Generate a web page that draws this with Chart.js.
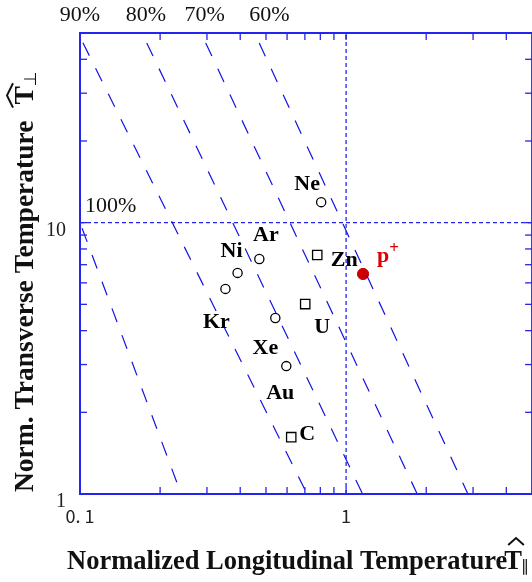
<!DOCTYPE html>
<html><head><meta charset="utf-8">
<script src="https://cdn.jsdelivr.net/npm/chart.js@4.4.1/dist/chart.umd.min.js"></script>
<style>html,body{margin:0;padding:0;background:#fff;overflow:hidden;}#wrap{width:540px;height:582px;}</style>
</head><body><div id="wrap"><canvas id="c" width="540" height="582"></canvas></div>
<script>
// ---- data ----
const xRange = [0.1, 5];
const yRange = [1, 50];
const xTickValues = [0.1, 1];
const xTickLabels = ['0. 1', '1'];
const yTickValues = [1, 10];
const yTickLabels = ['1', '10'];
const xMinorTicks = [0.2, 0.3, 0.4, 0.5, 0.6, 0.7, 0.8, 0.9, 1, 2, 3, 4];
const yMinorTicks = [2, 3, 4, 5, 6, 7, 8, 9, 10, 20, 30, 40];

const circleIons = ['Ne', 'Ar', 'Ni', 'Kr', 'Xe', 'Au'];
const circleTpar = [0.806, 0.472, 0.391, 0.352, 0.542, 0.596];
const circleTperp = [11.9, 7.35, 6.53, 5.70, 4.45, 2.96];

const squareIons = ['Zn', 'U', 'C'];
const squareTpar = [0.779, 0.702, 0.622];
const squareTperp = [7.60, 5.01, 1.62];

const protonLabel = 'p';
const protonCharge = '+';
const protonTpar = [1.158];
const protonTperp = [6.47];

const contourLabels = ['90%', '80%', '70%', '60%', '100%'];
const contourTpar = [[0.1, 0.713], [0.171, 1.153], [0.285, 1.85], [0.453, 2.87], [0.1, 0.240]];
const contourTperp = [[48.4, 1], [50, 1], [50, 1], [50, 1], [10, 1]];
const contourLabelTpar = [0.1, 0.177, 0.294, 0.515, 0.1];
const contourLabelTperp = [50, 50, 50, 50, 10];

const refTpar = 1;
const refTperp = 10;

const xTitle = 'Normalized Longitudinal Temperature';
const yTitle = 'Norm. Transverse Temperature';

// ---- styles ----
const frameColor = '#2424ee';
const lineBlue = '#1212e6';
const dashOffsets = [22, 17.5, 17.5, 17.5, 22.5];
const labelOffsets = {Ne:[-14,-12], Ar:[6.5,-17.6], Ni:[-6,-16], Kr:[-9,39], Xe:[-10,35.6], Au:[-6,32.6],
                      Zn:[27,11], U:[17,29], C:[16,3.3]};
const protonOffset = [20, -12];

const datasets = [];
contourTpar.forEach((xs, i) => {
  datasets.push({
    label: contourLabels[i],
    data: xs.map((v, j) => ({x: v, y: contourTperp[i][j]})),
    showLine: true, borderColor: lineBlue, borderWidth: 1.2,
    borderDash: [14.5, 14], borderDashOffset: dashOffsets[i],
    pointRadius: 0, fill: false
  });
});
datasets.push({label: 'refX', data: [{x: refTpar, y: yRange[0]}, {x: refTpar, y: yRange[1]}],
  showLine: true, borderColor: frameColor, borderWidth: 1.3, borderDash: [4, 3], pointRadius: 0});
datasets.push({label: 'refY', data: [{x: xRange[0], y: refTperp}, {x: xRange[1], y: refTperp}],
  showLine: true, borderColor: frameColor, borderWidth: 1.3, borderDash: [4, 3], pointRadius: 0});
datasets.push({label: 'circles', data: circleTpar.map((v, i) => ({x: v, y: circleTperp[i]})),
  pointStyle: 'circle', pointRadius: 4.6, borderColor: '#000', backgroundColor: 'rgba(0,0,0,0)', borderWidth: 1.3, showLine: false});
datasets.push({label: 'squares', data: squareTpar.map((v, i) => ({x: v, y: squareTperp[i]})),
  pointStyle: 'rect', pointRadius: 6.6, borderColor: '#000', backgroundColor: 'rgba(0,0,0,0)', borderWidth: 1.3, showLine: false});
datasets.push({label: 'proton', data: protonTpar.map((v, i) => ({x: v, y: protonTperp[i]})),
  pointStyle: 'circle', pointRadius: 5.6, borderColor: '#cc0000', backgroundColor: '#cc0000', borderWidth: 1, showLine: false});

const deco = {
  id: 'deco',
  afterDatasetsDraw(chart) {
    const {ctx, chartArea: a, scales: {x, y}} = chart;
    ctx.save();
    const seg = (x1, y1, x2, y2) => { ctx.beginPath(); ctx.moveTo(x1, y1); ctx.lineTo(x2, y2); ctx.stroke(); };
    // ticks inside
    ctx.strokeStyle = frameColor; ctx.lineWidth = 1.3;
    xMinorTicks.forEach(v => { const p = x.getPixelForValue(v); seg(p, a.bottom, p, a.bottom - 7); seg(p, a.top, p, a.top + 7); });
    yMinorTicks.forEach(v => { const p = y.getPixelForValue(v); seg(a.left, p, a.left + 7, p); seg(a.right, p, a.right - 7, p); });
    // frame
    ctx.lineWidth = 2;
    ctx.strokeRect(a.left, a.top, a.right - a.left, a.bottom - a.top);

    // contour labels
    ctx.fillStyle = '#111';
    ctx.font = '22px "Liberation Serif"';
    ctx.textBaseline = 'middle';
    contourLabels.forEach((t, i) => {
      const px = x.getPixelForValue(contourLabelTpar[i]);
      const py = y.getPixelForValue(contourLabelTperp[i]);
      if (contourLabelTperp[i] >= yRange[1]) { ctx.textAlign = 'center'; ctx.fillText(t, px, py - 18); }
      else { ctx.textAlign = 'left'; ctx.fillText(t, px + 5, py - 16); }
    });

    // point labels
    ctx.font = 'bold 22px "Liberation Serif"';
    ctx.textAlign = 'center'; ctx.textBaseline = 'alphabetic';
    ctx.fillStyle = '#000';
    const circMeta = chart.getDatasetMeta(datasets.length - 3).data;
    circleIons.forEach((n, i) => { const o = labelOffsets[n]; ctx.fillText(n, circMeta[i].x + o[0], circMeta[i].y + o[1]); });
    const sqMeta = chart.getDatasetMeta(datasets.length - 2).data;
    squareIons.forEach((n, i) => { const o = labelOffsets[n]; ctx.fillText(n, sqMeta[i].x + o[0], sqMeta[i].y + o[1]); });
    const pm = chart.getDatasetMeta(datasets.length - 1).data[0];
    ctx.fillStyle = '#dd0000';
    ctx.fillText(protonLabel, pm.x + protonOffset[0], pm.y + protonOffset[1]);
    const pw = ctx.measureText(protonLabel).width;
    ctx.font = 'bold 17px "Liberation Serif"';
    ctx.textAlign = 'left';
    ctx.fillText(protonCharge, pm.x + protonOffset[0] + pw / 2, pm.y + protonOffset[1] - 9);

    // x title
    ctx.fillStyle = '#111';
    ctx.font = 'bold 26.5px "Liberation Serif"';
    ctx.textAlign = 'left'; ctx.textBaseline = 'alphabetic';
    const xt0 = 67, xb = 569;
    ctx.fillText(xTitle, xt0, xb);
    const xw = ctx.measureText(xTitle).width;
    const tX = xt0 + xw - 3;
    ctx.fillText('T', tX, xb);
    const tW = ctx.measureText('T').width;
    ctx.font = '16px "DejaVu Sans"';
    ctx.fillText('\u2225', tX + tW - 1, xb + 2);
    ctx.strokeStyle = '#111'; ctx.lineWidth = 2;
    ctx.beginPath(); ctx.moveTo(tX + 4, xb - 24); ctx.lineTo(tX + tW / 2 + 3, xb - 31); ctx.lineTo(tX + tW + 2, xb - 24); ctx.stroke();

    // y title
    ctx.save();
    ctx.translate(33, 492);
    ctx.rotate(-Math.PI / 2);
    ctx.font = 'bold 27.5px "Liberation Serif"';
    ctx.fillText(yTitle, 0, 0);
    const yw = ctx.measureText(yTitle).width;
    const tu = yw + 16;
    ctx.fillText('T', tu, 0);
    const tw2 = ctx.measureText('T').width;
    ctx.font = '17px "DejaVu Sans"';
    ctx.fillText('\u22A5', tu + tw2, 3);
    ctx.beginPath(); ctx.moveTo(tu - 3, -20); ctx.lineTo(tu + tw2 / 2, -26); ctx.lineTo(tu + tw2 + 3, -20); ctx.stroke();
    ctx.restore();

    ctx.restore();
  }
};

new Chart(document.getElementById('c'), {
  type: 'scatter',
  data: {datasets},
  options: {
    responsive: false, animation: false, devicePixelRatio: 1,
    layout: {padding: {top: 33, right: 6, left: 0, bottom: 0}},
    plugins: {legend: {display: false}, tooltip: {enabled: false}},
    scales: {
      x: {type: 'logarithmic', min: xRange[0], max: xRange[1], position: 'bottom',
          grid: {display: false, drawTicks: false}, border: {display: false},
          afterBuildTicks: s => { s.ticks = xTickValues.map(v => ({value: v})); },
          afterFit: s => { s.height = 88; },
          ticks: {autoSkip: false, maxRotation: 0, padding: 11, color: '#222',
                  font: {family: '"Noto Sans CJK JP"', size: 18},
                  callback: (v, i) => xTickLabels[i]}},
      y: {type: 'logarithmic', min: yRange[0], max: yRange[1], position: 'left',
          grid: {display: false, drawTicks: false}, border: {display: false},
          afterBuildTicks: s => { s.ticks = yTickValues.map(v => ({value: v})); },
          afterFit: s => { s.width = 80; },
          ticks: {autoSkip: false, padding: 14, labelOffset: 8, color: '#222',
                  font: {family: '"Liberation Serif"', size: 20},
                  callback: (v, i) => yTickLabels[i]}}
    }
  },
  plugins: [deco]
});
</script></body></html>
